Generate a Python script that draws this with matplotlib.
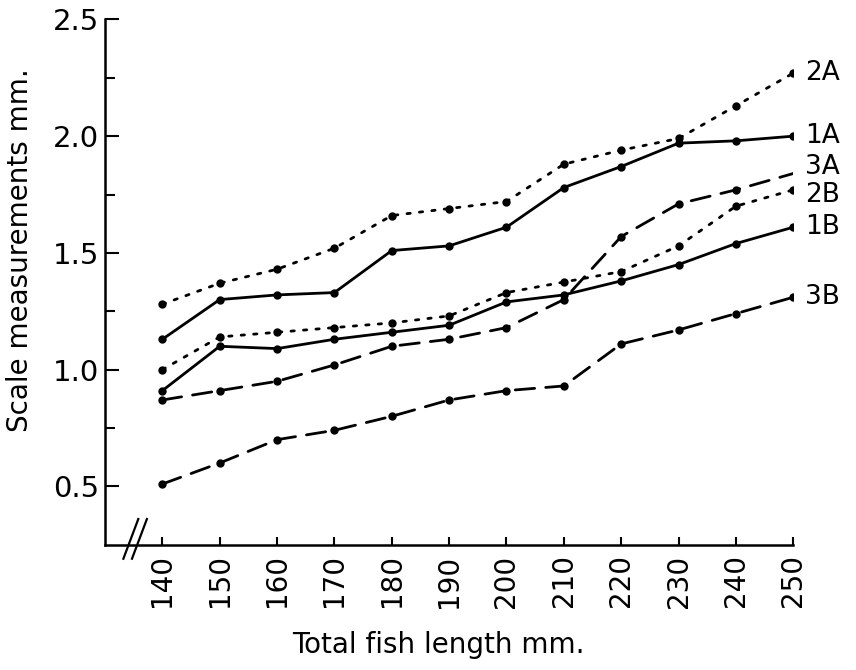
import numpy as np
import matplotlib.pyplot as plt

# fish length classes (mm)
lengths = [140, 150, 160, 170, 180, 190, 200, 210, 220, 230, 240, 250]

s2A = [1.28, 1.37, 1.43, 1.52, 1.66, 1.69, 1.72, 1.88, 1.94, 1.99, 2.13, 2.27]
s1A = [1.13, 1.30, 1.32, 1.33, 1.51, 1.53, 1.61, 1.78, 1.87, 1.97, 1.98, 2.00]
s3A = [0.87, 0.91, 0.95, 1.02, 1.10, 1.13, 1.18, 1.30, 1.57, 1.71, 1.77, 1.84]
s2B = [1.00, 1.14, 1.16, 1.18, 1.20, 1.23, 1.33, 1.375, 1.42, 1.53, 1.70, 1.77]
s1B = [0.91, 1.10, 1.09, 1.13, 1.16, 1.19, 1.29, 1.32, 1.38, 1.45, 1.54, 1.61]
s3B = [0.51, 0.60, 0.70, 0.74, 0.80, 0.87, 0.91, 0.93, 1.11, 1.17, 1.24, 1.31]

dotted = (0, (1.2, 3.3))
dashed = (0, (7, 4))
series = [("2A", s2A, dotted), ("1A", s1A, "-"), ("3A", s3A, dashed),
          ("2B", s2B, dotted), ("1B", s1B, "-"), ("3B", s3B, dashed)]
# small vertical nudges so the end labels don't collide
label_offsets = {"2A": 0.0, "1A": 0.0, "3A": 0.03, "2B": -0.02, "1B": 0.0, "3B": 0.0}

fig = plt.figure(figsize=(8.56, 6.70), dpi=100)
ax = fig.add_axes([0.1227, 0.187, 0.804, 0.784])

for name, vals, ls in series:
    # 3A has no dot at its last point
    mk = list(range(len(vals) - 1)) if name == "3A" else None
    ax.plot(lengths, vals, linestyle=ls, color="black", linewidth=2.0,
            marker="o", markersize=5, markevery=mk, dash_capstyle="round")
    ax.text(252, vals[-1] + label_offsets[name], name, fontsize=19,
            va="center", ha="left")

ax.set_xlim(130, 250)
ax.set_ylim(0.25, 2.5)
ax.set_xticks(lengths)
ax.set_xticklabels([str(v) for v in lengths], rotation=90, fontsize=20)
ax.set_yticks([0.5, 1.0, 1.5, 2.0, 2.5])
ax.set_yticklabels(["0.5", "1.0", "1.5", "2.0", "2.5"], fontsize=21)
ax.set_yticks([0.75, 1.25, 1.75, 2.25], minor=True)
ax.tick_params(axis="both", which="both", direction="in", width=1.5, colors="black")
ax.tick_params(axis="y", which="major", length=10, pad=4)
ax.tick_params(axis="y", which="minor", length=7)
ax.tick_params(axis="x", length=6, pad=7)

ax.spines["top"].set_visible(False)
ax.spines["right"].set_visible(False)
ax.spines["left"].set_linewidth(1.8)
ax.spines["bottom"].set_linewidth(1.8)

ax.set_xlabel("Total fish length mm.", fontsize=20)
ax.set_ylabel("Scale measurements mm.", fontsize=20)
ax.yaxis.set_label_coords(-0.103, 0.56)
ax.xaxis.set_label_coords(0.485, -0.165)

# axis break mark near origin
for dx in (0.0, 1.5):
    ax.plot([133.2 + dx, 135.8 + dx], [0.19, 0.36], color="black",
            linewidth=1.6, clip_on=False)

fig.savefig("out.png", dpi=100)
